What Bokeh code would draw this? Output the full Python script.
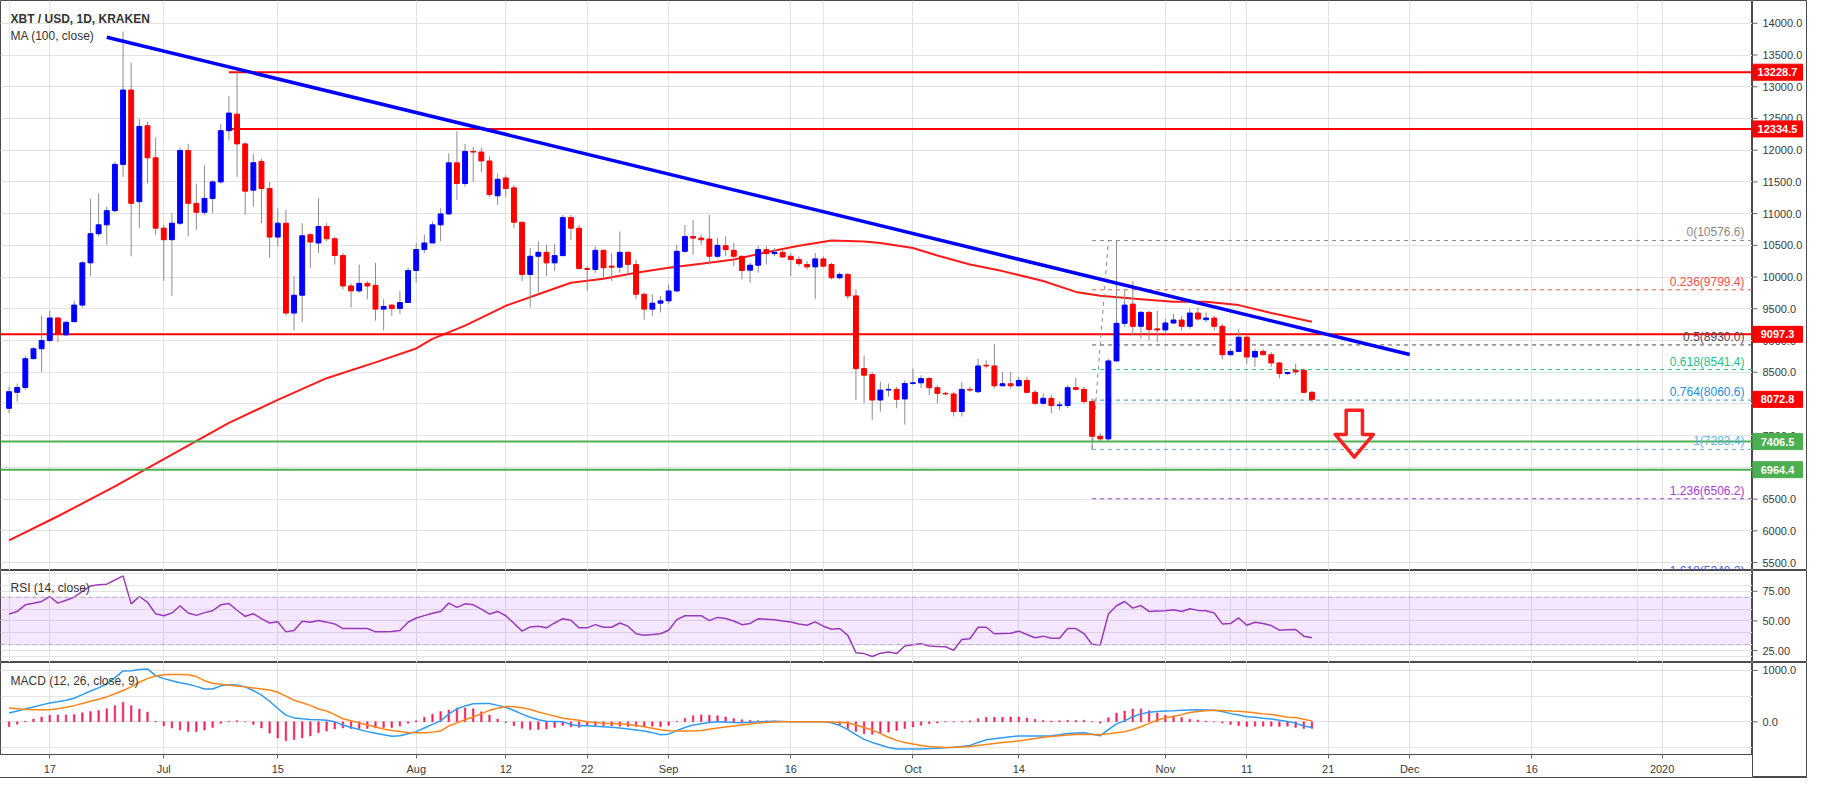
import numpy as np
import pandas as pd
from bokeh.plotting import figure
from bokeh.layouts import column, row
from bokeh.models import Range1d, FixedTicker, Grid, Label, BoxAnnotation, Span, Spacer
from bokeh.core.properties import value
from bokeh.embed import file_html
from bokeh.resources import INLINE

# ---------------- data ----------------
START = pd.Timestamp("2019-06-12")
dates = pd.date_range(START, "2019-11-19", freq="D")

opens = [7932, 8183, 8260, 8714, 8870, 9000, 9355, 9089, 9297, 9558, 10224, 10683, 10823, 11047, 11776, 12948, 11188, 12386, 11880,
         10771, 10589, 10849, 11995, 11162, 11021, 11240, 11500, 12307, 12568, 12099, 11370, 11823, 11396, 10630, 10849, 9433, 9714,
         10667, 10537, 10797, 10604, 10339, 9860, 9782, 9901, 9870, 9495, 9558, 9506, 9599,
         10104, 10433, 10537, 10823, 10995, 11800, 11474, 11980, 11970, 11830, 11281, 11562, 11406, 10864, 10041, 10328, 10390, 10224,
         10338, 10937, 10770, 10135, 10120, 10422, 10172, 10156, 10390, 10198, 9729, 9495, 9588,
         9625, 9781, 10406, 10640, 10614, 10599, 10328, 10494, 10422, 10328, 10109, 10187, 10432, 10370, 10390, 10328, 10276, 10198,
         10161, 10286, 10198, 9989, 10041, 9703, 8557, 8463, 8062, 8219, 8230, 8079,
         8323, 8333, 8401, 8256, 8167, 8157, 7881, 8230, 8193, 8610, 8599, 8287, 8318, 8287, 8370, 8183, 8011, 8089, 7975, 7975, 8256,
         8230, 8037, 7490, 7449, 8678, 9271, 9573, 9224, 9443, 9183,
         9167, 9276, 9323, 9224, 9433, 9328, 9354, 9224, 8776, 8828, 9052, 8740, 8828, 8776, 8646, 8480, 8532, 8532, 8183]
highs = [8271, 8323, 8766, 8896, 9391, 9469, 9365, 9313, 9625, 10250, 11230, 11318, 11110, 11813, 13870, 13375, 12490, 12448, 12203,
         10823, 11005, 12047, 12099, 11474, 11761, 11526, 12412, 12854, 13245, 12125, 11943, 11865, 11500, 11083, 11057, 10016, 10849,
         10693, 11240, 10849, 10641, 10381, 9900, 10198, 9938, 10224, 9651, 9573, 9781, 10146,
         10537, 10667, 10875, 11083, 11950, 12300, 12100, 12050, 12040, 11900, 11630, 11604, 11448, 10875, 10458, 10562, 10510, 10526,
         10979, 10979, 10822, 10172, 10484, 10432, 10380, 10718, 10406, 10276, 9755, 9729, 9703,
         9885, 10510, 10822, 10900, 10666, 10979, 10614, 10640, 10536, 10328, 10224, 10494, 10484, 10458, 10432, 10380, 10328, 10250,
         10380, 10328, 10224, 10078, 10067, 9807, 8765, 8505, 8349, 8323, 8271, 8375,
         8558, 8453, 8427, 8297, 8193, 8193, 8349, 8271, 8714, 8688, 8948, 8505, 8505, 8427, 8427, 8219, 8167, 8141, 8037, 8297,
         8412, 8271, 8089, 7542, 8714, 10577, 9808, 9938, 9469, 9469, 9469,
         9339, 9417, 9391, 9495, 9521, 9443, 9391, 9261, 8870, 9183, 9079, 8870, 8870, 8818, 8662, 8506, 8636, 8558, 8204]
lows = [7855, 8037, 8219, 8700, 8506, 8974, 8974, 9078, 9287, 9521, 10016, 10641, 10511, 11016, 11578, 10328, 10771, 11474, 10667,
        9938, 9703, 10823, 10641, 10745, 10979, 11005, 11474, 12151, 11578, 10979, 11109, 10849, 10302, 10485, 9391, 9157, 9287,
        10146, 10381, 10563, 10198, 9808, 9521, 9756, 9651, 9313, 9157, 9391, 9417, 9599,
        9912, 10380, 10537, 10563, 10979, 11213, 11421, 11500, 11650, 11265, 11135, 11265, 10770, 9937, 9520, 9755, 10015, 10093,
        10328, 10588, 10120, 9781, 10067, 9989, 9937, 10067, 10041, 9651, 9328, 9390, 9442,
        9573, 9765, 10380, 10354, 10510, 10198, 10302, 10328, 10172, 9963, 9911, 10067, 10198, 10328, 10302, 10015, 10172, 10120,
        9651, 10146, 9963, 9963, 9651, 8062, 8010, 7750, 7880, 8115, 7933, 7672,
        8297, 8245, 8141, 8011, 8141, 7802, 7802, 8193, 8167, 8558, 8245, 8271, 8245, 8271, 8167, 7985, 7985, 7855, 7907, 7933,
        8219, 8011, 7283, 7412, 7412, 8662, 9209, 9079, 9027, 9001, 8974,
        9105, 9261, 9157, 9183, 9313, 9287, 9157, 8703, 8766, 8818, 8636, 8584, 8766, 8584, 8402, 8454, 8454, 8167, 8026]
closes = [8193, 8260, 8714, 8870, 9000, 9355, 9105, 9287, 9558, 10224, 10683, 10823, 11047, 11776, 12948, 11162, 12375, 11880, 10771,
          10589, 10849, 11995, 11162, 11021, 11240, 11500, 12307, 12584, 12099, 11354, 11802, 11396, 10630, 10849, 9433, 9714, 10651,
          10552, 10797, 10604, 10339, 9860, 9782, 9901, 9860, 9495, 9537, 9506, 9599, 10104,
          10433, 10537, 10823, 10995, 11800, 11474, 11980, 11970, 11830, 11302, 11541, 11395, 10864, 10041, 10328, 10390, 10224, 10338,
          10937, 10770, 10135, 10120, 10422, 10146, 10156, 10390, 10198, 9729, 9495, 9588, 9625,
          9781, 10406, 10640, 10614, 10588, 10328, 10500, 10432, 10328, 10104, 10187, 10432, 10370, 10390, 10317, 10276, 10213, 10161,
          10286, 10172, 9989, 10041, 9703, 8557, 8453, 8062, 8218, 8230, 8073, 8323,
          8333, 8401, 8256, 8167, 8157, 7881, 8230, 8219, 8599, 8599, 8287, 8318, 8287, 8370, 8183, 8011, 8089, 7975, 7985, 8256,
          8230, 8037, 7490, 7449, 8678, 9271, 9558, 9224, 9443, 9172, 9167,
          9276, 9323, 9224, 9433, 9339, 9354, 9224, 8776, 8828, 9052, 8740, 8828, 8776, 8646, 8480, 8495, 8506, 8183, 8072.8]

ma_dates = ["2019-06-12", "2019-06-18", "2019-06-25", "2019-07-02", "2019-07-09", "2019-07-15", "2019-07-21", "2019-07-27",
            "2019-08-01", "2019-08-03", "2019-08-07", "2019-08-12", "2019-08-16", "2019-08-20", "2019-08-24", "2019-08-28",
            "2019-09-01", "2019-09-05", "2019-09-09", "2019-09-13", "2019-09-17", "2019-09-21", "2019-09-25", "2019-09-27",
            "2019-10-01", "2019-10-04", "2019-10-08", "2019-10-12", "2019-10-17", "2019-10-21", "2019-10-24", "2019-10-29",
            "2019-11-02", "2019-11-06", "2019-11-10", "2019-11-14", "2019-11-19"]
ma_values = [5850, 6230, 6700, 7200, 7703, 8063, 8406, 8656, 8875, 9026, 9234, 9547, 9729, 9911, 9974, 10067,
             10146, 10208, 10276, 10390, 10495, 10578, 10562, 10536, 10459, 10339, 10198, 10094, 9938, 9766, 9704, 9652,
             9610, 9610, 9558, 9433, 9297]

rsi = [55.8, 58, 63.6, 65, 66.4, 70.6, 65, 67.5, 70, 75, 79.4, 80.5, 81, 84.5, 88, 64.4, 70.6, 65.8, 56,
       54.4, 56.7, 62.8, 56.7, 54.7, 57, 58.6, 63.6, 64.7, 59, 53.9, 56, 52, 48.3, 49.4, 40.8, 41.9, 49.7,
       48.9, 50.3, 49, 47.5, 43.6, 43.6, 43.6, 43.6, 40.8, 41, 41.2, 41.9, 48.9,
       52.5, 54.5, 56.5, 58, 65, 61.4, 64.4, 63.6, 60, 55.8, 58, 54.4, 48, 41.4, 45, 45.6, 44.2, 48.3,
       51.9, 50.6, 44.2, 44.2, 46.9, 44.7, 44.7, 48.3, 45.6, 39.2, 38, 38.5, 39.2,
       42.2, 51.1, 54.4, 54.4, 54.4, 50.3, 53, 52, 50, 46.9, 47.8, 51.9, 51.5, 51.1, 50, 49.2, 47.5, 46.4,
       49.2, 45.6, 43, 43.6, 37.8, 23.3, 22.5, 20, 22.8, 23.9, 22.5, 28.9,
       30, 30.8, 28.9, 28.5, 28.3, 25.3, 34.4, 35, 44.7, 44.7, 39.2, 39.5, 39.7, 41.4, 38.6, 35.8, 37.2, 35.5, 35.5, 43.6,
       43.6, 39.4, 30.3, 29.7, 55.8, 62.8, 66.4, 60.8, 63, 58, 58.3,
       58.6, 59.4, 58, 60.3, 58.9, 58.6, 56.7, 47.5, 47.8, 52.5, 46.4, 48.9, 47.8, 46.1, 42.2, 42.5, 42.8, 37.2, 35.8]

macd = [173, 210, 250, 290, 330, 365, 390, 420, 460, 530, 600, 660, 740, 860, 990, 995, 1020, 1030, 900,
        840, 800, 760, 730, 690, 640, 640, 700, 720, 718, 680, 610, 520, 400, 260, 130, 77, 60,
        45, 40, 30, 0, -60, -110, -150, -190, -220, -250, -280, -270, -230,
        -190, -120, -50, 20, 150, 250, 310, 350, 355, 355, 320, 285, 220, 150, 90, 40, 10, 5,
        0, -50, -75, -78, -85, -95, -105, -120, -140, -160, -180, -210, -250,
        -240, -170, -110, -60, -35, -15, 0, -5, -15, -19, -10, 0, 8, 13, 8, 2, 0, 0,
        0, 0, -20, -70, -150, -250, -340, -400, -450, -500, -526, -530,
        -530, -526, -520, -512, -502, -495, -480, -460, -400, -350, -330, -310, -290, -276, -276, -276, -276, -270, -250, -225,
        -218, -212, -240, -269, -150, -40, 19, 100, 155, 185, 200,
        210, 215, 225, 232, 237, 232, 224, 200, 160, 135, 100, 90, 70, 55, 30, 5, -25, -80, -109]
signal = [269, 255, 240, 237, 237, 237, 255, 285, 315, 355, 400, 440, 485, 545, 609, 680, 770, 840, 890,
          917, 920, 920, 917, 880, 800, 750, 730, 710, 695, 680, 660, 640, 620, 575, 500, 420, 372,
          320, 250, 210, 140, 60, 20, -20, -60, -100, -140, -170, -190, -205,
          -212, -210, -200, -180, -80, -20, 40, 95, 160, 224, 265, 300, 295, 276, 240, 190, 150, 115,
          70, 50, 32, 0, -15, -25, -30, -35, -50, -70, -95, -125, -155,
          -173, -178, -180, -179, -170, -145, -120, -100, -80, -60, -40, -22, -12, -5, 0, 0, 0, 0,
          0, 0, -5, -12, -19, -60, -110, -160, -230, -300, -360, -400,
          -430, -460, -481, -490, -500, -498, -490, -481, -460, -440, -420, -400, -385, -372, -350, -325, -301, -285, -270, -255,
          -244, -244, -244, -244, -230, -210, -192, -150, -96, -30, 30,
          80, 109, 140, 180, 200, 215, 224, 220, 212, 205, 192, 175, 155, 141, 120, 90, 83, 50, 19]

# drawings
resist_lines = [("2019-07-09", 13228.7, "#ff0000"), ("2019-07-09", 12334.5, "#ff0000"), ("2019-06-01", 9097.3, "#ff0000")]
support_lines = [("2019-06-01", 7406.5, "#4caf50"), ("2019-06-01", 6964.4, "#4caf50")]
trend_dates = ["2019-06-24", "2019-12-01"]
trend_values = [13780, 8780]
fib_start = "2019-10-23"
fib_end = "2019-10-25"
fib_high = 10576.6
fib_low = 7283.4
fib_ratios = [0, 0.236, 0.5, 0.618, 0.764, 1, 1.236, 1.618]
fib_colors = ["#8a8a8a", "#ef5350", "#5b3f55", "#1fbf8f", "#2190d8", "#62b4e6", "#a33fd4", "#4f5bd5"]

price_ticks = list(range(5500, 14001, 500))
rsi_ticks = [25, 50, 75]
macd_ticks = [0, 1000]

tick_dates = ["2019-06-17", "2019-07-01", "2019-07-15", "2019-08-01", "2019-08-12", "2019-08-22", "2019-09-01", "2019-09-16",
              "2019-10-01", "2019-10-14", "2019-11-01", "2019-11-11", "2019-11-21", "2019-12-01", "2019-12-16", "2020-01-01"]
tick_labels = ["17", "Jul", "15", "Aug", "12", "22", "Sep", "16", "Oct", "14", "Nov", "11", "21", "Dec", "16", "2020"]

# ---------------- helpers ----------------
def day(s):
    return (pd.Timestamp(s) - START).days

FONT = "Liberation Sans"
X0, X1 = -1.05, 214.1
FW = 1752
SW = 55
PPD = FW / (X1 - X0)
xr = Range1d(X0, X1)
xs = np.array([(d - START).days for d in dates])
tick_pos = [day(d) for d in tick_dates]
GRID = "#e2e2e2"
EDGE = "#4a4a4a"
TXT = "#3a3a3a"
AXH = 23  # height of time axis strip


def make_fig(h, yrange, yticks, bottom=0):
    p = figure(frame_width=FW, frame_height=h, x_range=xr, y_range=yrange, title=None,
               output_backend="svg", toolbar_location=None,
               x_axis_location="below" if bottom else None, y_axis_location=None,
               min_border_left=0, min_border_right=0, min_border_top=0, min_border_bottom=bottom)
    p.outline_line_color = EDGE
    p.outline_line_width = 1
    p.background_fill_color = "white"
    p.border_fill_color = "white"
    p.add_layout(Grid(dimension=0, ticker=FixedTicker(ticks=tick_pos), grid_line_color=GRID))
    p.add_layout(Grid(dimension=1, ticker=FixedTicker(ticks=yticks), grid_line_color=GRID))
    return p


def make_side(h, yrange, yticks, fmt):
    s = figure(frame_width=SW, frame_height=h, x_range=Range1d(0, SW), y_range=yrange, title=None,
               output_backend="svg", toolbar_location=None, x_axis_location=None, y_axis_location=None,
               min_border_left=0, min_border_right=0, min_border_top=0, min_border_bottom=0)
    s.outline_line_color = EDGE
    s.outline_line_width = 1
    s.background_fill_color = "white"
    s.border_fill_color = "white"
    s.grid.visible = False
    s.segment(x0=[0] * len(yticks), y0=yticks, x1=[5] * len(yticks), y1=yticks, line_color="#666666", line_width=1)
    s.text(x=[10] * len(yticks), y=yticks, text=[fmt.format(t) for t in yticks], text_align="left",
           text_baseline="middle", text_font=value(FONT), text_font_size="11px", text_color=TXT)
    return s

# ---------------- main pane ----------------
Y0, Y1 = 5375, 14359
FH = 570
PPY = FH / (Y1 - Y0)
yr_main = Range1d(Y0, Y1)
p = make_fig(FH, yr_main, price_ticks)

# moving average
p.line([day(d) for d in ma_dates], ma_values, line_color="#ff1a1a", line_width=2)

# horizontal levels
for d0, v, c in resist_lines + support_lines:
    p.segment(x0=[day(d0)], y0=[v], x1=[X1 + 5], y1=[v], line_color=c, line_width=2)

# fib retracement
rng = fib_high - fib_low
fib_vals = [fib_high - r * rng for r in fib_ratios]
fx0 = day(fib_start)
for r, v, c in zip(fib_ratios, fib_vals, fib_colors):
    p.segment(x0=[fx0], y0=[v], x1=[X1 + 5], y1=[v], line_color=c, line_width=1, line_dash="4 4")
p.text(x=[X1 - 8 / PPD] * len(fib_vals), y=fib_vals,
       text=[f"{r:g}({v:.1f})" for r, v in zip(fib_ratios, fib_vals)],
       text_color=fib_colors, text_align="right", text_baseline="bottom", y_offset=-1,
       text_font=value(FONT), text_font_size="12px")
p.line([fx0, day(fib_end)], [fib_low, fib_high], line_color="#8a8a8a", line_width=1, line_dash="4 4")

# candles
up = np.array(closes) >= np.array(opens)
cols = np.where(up, "#0000ff", "#ff0000")
p.segment(x0=xs, y0=lows, x1=xs, y1=highs, line_color="#8c8c8c", line_width=1)
p.vbar(x=xs, top=np.maximum(opens, closes), bottom=np.minimum(opens, closes), width=0.6,
       fill_color=cols, line_color=cols, line_width=1)

# blue trend line
p.line([day(d) for d in trend_dates], trend_values, line_color="#0000ff", line_width=3.5)

# red down arrow (outline)
ax_c = day("2019-11-24") + 0.2
a_top, a_sh, a_tip = 7900, 7520, 7160
sw, hw = 1.0, 2.35
p.patch([ax_c - sw, ax_c + sw, ax_c + sw, ax_c + hw, ax_c, ax_c - hw, ax_c - sw],
        [a_top, a_top, a_sh, a_sh, a_tip, a_sh, a_sh],
        fill_alpha=0, line_color="#ff1f1f", line_width=3.5, line_join="round")

# legend texts
tx = X0 + 10 / PPD
p.add_layout(Label(x=tx, y=Y1 - 18 / PPY, text="XBT / USD, 1D, KRAKEN", text_font=FONT, text_font_size="12px",
                   text_font_style="bold", text_color="#333333", text_baseline="middle"))
p.add_layout(Label(x=tx, y=Y1 - 35 / PPY, text="MA (100, close)", text_font=FONT, text_font_size="12px",
                   text_color="#333333", text_baseline="middle"))

# price axis with coloured price boxes
ps = make_side(FH, yr_main, price_ticks, "{:.1f}")
boxes = [(v, c) for _, v, c in resist_lines] + [(closes[-1], "#ff0000")] + [(v, c) for _, v, c in support_lines]
bv = [b[0] for b in boxes]
bc = [b[1] for b in boxes]
half = 8 / PPY
ps.quad(left=[0] * len(bv), right=[50] * len(bv), bottom=[v - half for v in bv], top=[v + half for v in bv],
        fill_color=bc, line_color=bc)
ps.text(x=[25] * len(bv), y=bv, text=[f"{v:.1f}" for v in bv], text_align="center", text_baseline="middle",
        text_font=value(FONT), text_font_size="11px", text_font_style="bold", text_color="white")

# ---------------- RSI pane ----------------
R0, R1 = 15, 92.5
yr_rsi = Range1d(R0, R1)
r = make_fig(92, yr_rsi, rsi_ticks)
r.add_layout(BoxAnnotation(bottom=30, top=70, left=X0, right=X1 + 5, fill_color="#9915ff", fill_alpha=0.1, line_alpha=0))
for lv in (30, 70):
    r.add_layout(Span(location=lv, dimension="width", line_color="#b8a6c4", line_dash="4 4", line_width=1))
r.line(xs, rsi, line_color="#9b3eb5", line_width=1.5)
r.add_layout(Label(x=tx, y=R1 - 17 / (92 / (R1 - R0)), text="RSI (14, close)", text_font=FONT, text_font_size="12px",
                   text_color="#333333", text_baseline="middle"))
rs = make_side(92, yr_rsi, rsi_ticks, "{:.2f}")

# ---------------- MACD pane ----------------
M0, M1 = -635, 1154
yr_macd = Range1d(M0, M1)
m = make_fig(92, yr_macd, macd_ticks, bottom=AXH)
hist = np.array(macd) - np.array(signal)
m.vbar(x=xs, top=hist, bottom=0, width=0.2, fill_color="#f0245f", line_color="#f0245f", line_width=0.5)
m.line(xs, macd, line_color="#2f9cf2", line_width=1.5)
m.line(xs, signal, line_color="#ff8519", line_width=1.5)
m.add_layout(Label(x=tx, y=M1 - 18 / (92 / (M1 - M0)), text="MACD (12, 26, close, 9)", text_font=FONT,
                   text_font_size="12px", text_color="#333333", text_baseline="middle"))
xa = m.xaxis[0]
xa.ticker = FixedTicker(ticks=tick_pos)
xa.major_label_overrides = {tp: lb for tp, lb in zip(tick_pos, tick_labels)}
xa.axis_line_color = EDGE
xa.major_tick_in = 0
xa.major_tick_out = 4
xa.major_tick_line_color = "#666666"
xa.minor_tick_line_color = None
xa.major_label_standoff = 4
xa.major_label_text_font = FONT
xa.major_label_text_font_size = "11px"
xa.major_label_text_color = TXT
# side panel of the MACD pane reaches down through the time-axis strip
ppy_m = 92 / (M1 - M0)
ms = make_side(92 + AXH, Range1d(M0 - AXH / ppy_m, M1), macd_ticks, "{:.1f}")

bottom_rule = Spacer(width=FW + SW, height=1, styles={"background-color": EDGE})

layout = column(row(p, ps, spacing=0), row(r, rs, spacing=0), row(m, ms, spacing=0), bottom_rule, spacing=0)
open("out.html", "w").write(file_html(layout, INLINE))
